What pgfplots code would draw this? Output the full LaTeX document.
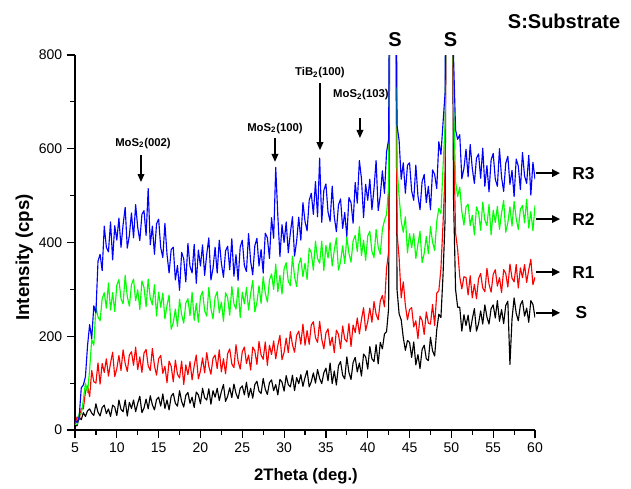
\documentclass[border=0pt]{standalone}
\usepackage{fontspec}
\setmainfont{Liberation Sans}
\usepackage{pgfplots}
\pgfplotsset{compat=1.18}
\usepackage{pgfplotstable}
\usetikzlibrary{arrows.meta}

% XRD patterns: substrate (s) and coatings R1, R2, R3
\pgfplotstableread{
x s r1 r2 r3
5.00 10 11 12 21
5.25 9 28 12 16
5.50 27 22 35 28
5.75 22 46 34 90
6.00 37 45 65 96
6.25 29 82 100 114
6.50 41 94 80 180
6.75 45 71 129 225
7.00 36 127 193 195
7.25 31 103 181 265
7.50 56 100 264 250
7.75 38 143 241 360
8.00 30 98 233 375
8.25 48 142 280 340
8.50 53 123 293 435
8.75 35 152 260 390
9.00 45 115 314 380
9.25 29 143 256 444
9.50 53 166 293 363
9.75 49 114 253 436
10.00 31 131 309 405
10.25 64 159 321 452
10.50 44 127 280 390
10.75 39 171 269 438
11.00 64 142 330 475
11.25 30 125 285 388
11.50 59 160 264 415
11.75 46 167 310 463
12.00 64 138 322 410
12.25 39 177 276 481
12.50 57 129 299 432
12.75 72 156 257 404
13.00 37 123 318 460
13.25 47 164 304 468
13.50 66 172 263 415
13.75 45 137 322 515
14.00 73 127 281 395
14.25 54 174 267 435
14.50 43 137 310 375
14.75 65 117 243 440
15.00 70 152 294 450
15.25 51 159 262 389
15.50 77 121 292 368
15.75 46 136 237 441
16.00 64 101 266 375
16.25 43 147 288 335
16.50 72 136 215 385
16.75 78 103 229 390
17.00 57 149 258 320
17.25 51 119 221 351
17.50 84 111 279 298
17.75 61 147 246 379
18.00 49 97 228 365
18.25 74 139 271 316
18.50 80 118 280 398
18.75 57 146 244 349
19.00 70 107 294 335
19.25 48 137 234 396
19.50 81 160 270 313
19.75 75 109 230 384
20.00 56 126 284 350
20.25 89 154 296 395
20.50 69 122 254 330
20.75 64 165 243 375
21.00 88 136 304 410
21.25 55 119 259 320
21.50 84 153 237 345
21.75 70 160 283 390
22.00 89 131 295 335
22.25 63 171 250 405
22.50 82 124 273 356
22.75 97 152 232 326
23.00 61 120 293 382
23.25 72 163 282 392
23.50 90 173 245 342
23.75 69 141 306 408
24.00 98 133 269 328
24.25 78 182 258 374
24.50 67 147 304 319
24.75 89 130 240 390
25.00 94 167 294 405
25.25 75 177 269 351
25.50 102 142 304 338
25.75 70 160 256 419
26.00 89 128 291 360
26.25 68 177 319 331
26.50 97 169 252 393
26.75 104 140 272 409
27.00 83 189 308 350
27.25 78 160 270 385
27.50 110 151 327 335
27.75 87 188 292 420
28.00 76 138 273 410
28.25 101 181 320 366
28.50 107 161 333 453
28.75 84 190 300 409
29.00 97 152 354 560
29.25 75 180 295 457
29.50 108 202 330 370
29.75 102 150 290 438
30.00 83 166 344 400
30.25 116 196 357 444
30.50 97 165 317 378
30.75 92 210 308 421
31.00 117 182 371 455
31.25 84 166 327 371
31.50 112 202 306 403
31.75 99 211 353 454
32.00 118 183 367 405
32.25 93 226 327 485
32.50 112 181 356 445
32.75 127 212 321 425
33.00 92 183 388 490
33.25 103 224 378 505
33.50 122 231 341 460
33.75 100 197 403 530
34.00 129 187 366 455
34.25 110 232 356 580
34.50 99 194 403 443
34.75 122 173 340 511
35.00 132 207 394 525
35.25 105 216 367 465
35.50 143 180 400 445
35.75 99 198 350 520
36.00 126 165 384 455
36.25 96 213 410 423
36.50 137 204 341 480
36.75 146 174 359 493
37.00 117 222 393 430
37.25 109 194 355 464
37.50 156 188 412 413
37.75 123 227 377 496
38.00 108 178 358 485
38.25 144 224 404 441
38.50 155 208 415 528
38.75 124 239 381 484
39.00 143 205 434 575
39.25 115 236 372 536
39.50 162 261 405 453
39.75 156 212 362 524
40.00 130 231 414 490
40.25 178 260 424 535
40.50 152 230 381 470
40.75 146 274 368 515
41.00 182 247 428 575
41.25 141 235 390 468
41.50 187 275 375 500
41.75 173 287 428 553
42.00 205 263 447 505
42.25 210 345 460 593
42.50 260 380 520 620
42.75 1500 1500 1500 1500
43.00 1500 1500 1500 1500
43.25 1500 1500 1500 1500
43.50 300 420 560 650
43.75 248 368 498 618
44.00 235 282 446 535
44.25 197 316 422 570
44.50 170 266 455 505
44.75 191 235 378 565
45.00 187 257 419 570
45.25 155 261 389 510
45.50 188 220 419 490
45.75 139 233 366 565
46.00 161 195 396 500
46.25 131 243 424 470
46.50 172 234 357 530
46.75 181 204 377 545
47.00 152 252 413 485
47.25 148 228 376 520
47.50 198 226 434 470
47.75 169 268 401 555
48.00 158 223 383 545
48.25 214 292 445 515
48.50 247 297 473 615
48.75 240 344 462 588
49.00 330 440 560 655
49.25 450 550 650 720
49.50 1500 1500 1500 1500
49.75 1500 1500 1500 1500
50.00 1500 1500 1500 1500
50.25 500 650 720 800
50.50 300 420 530 640
50.75 262 385 498 620
51.00 262 327 518 630
51.25 211 301 466 536
51.50 246 327 437 558
51.75 223 325 476 599
52.00 245 288 482 540
52.25 210 329 436 609
52.50 237 282 458 558
52.75 259 311 416 526
53.00 211 280 476 580
53.25 227 323 464 589
53.50 254 334 426 537
53.75 226 303 486 601
54.00 267 295 448 520
54.25 241 345 436 564
54.50 226 311 481 508
54.75 259 294 416 576
55.00 267 332 469 590
55.25 239 342 443 535
55.50 276 307 477 520
55.75 232 325 428 600
56.00 257 293 463 539
56.25 227 342 490 509
56.50 266 334 422 569
56.75 275 305 442 584
57.00 140 354 476 524
57.25 237 324 435 554
57.50 282 316 488 498
57.75 249 353 451 578
58.00 233 303 428 563
58.25 267 346 471 513
58.50 276 325 479 592
58.75 243 353 442 542
59.00 260 315 492 526
59.25 230 342 431 586
59.50 276 364 466 501
59.75 268 310 425 571
60.00 240 326 479 535
}\xrd

\begin{document}
\begin{tikzpicture}
\begin{axis}[
  scale only axis,
  width=345pt, height=281.25pt,
  xmin=5, xmax=60, ymin=0, ymax=800,
  axis lines=left,
  axis line style={-, line width=1pt},
  tick align=outside,
  xtick={5,10,...,60}, minor x tick num=1,
  ytick={0,200,...,800}, minor y tick num=1,
  major tick length=6pt, minor tick length=3.5pt,
  every tick/.style={black, line width=0.9pt},
  tick label style={font=\fontsize{10.5}{12}\selectfont},
  /pgf/number format/assume math mode=true,
  xlabel={2Theta (deg.)},
  ylabel={Intensity (cps)},
  xlabel style={font=\bfseries\fontsize{12.5}{14}\selectfont,
    at={(axis description cs:0.502,-0.123)}, anchor=center},
  ylabel style={font=\bfseries\fontsize{14}{16}\selectfont,
    at={(axis description cs:-0.11,0.46)}, anchor=center},
  clip mode=individual,
  every axis plot/.append style={line width=0.85pt, line join=round},
]
\path (axis cs:-3.967,917.33) rectangle (axis cs:71.476,-121.6);

\addplot[black, no marks] table[x=x, y=s] {\xrd};
\addplot[red, no marks] table[x=x, y=r1] {\xrd};
\addplot[green, no marks] table[x=x, y=r2] {\xrd};
\addplot[blue, no marks] table[x=x, y=r3] {\xrd};

% peak annotations
\begin{scope}[font=\bfseries\fontsize{8.5}{10}\selectfont]
  \node at (axis cs:13.13,612) {MoS\textsubscript{2}(002)};
  \node at (axis cs:28.91,644) {MoS\textsubscript{2}(100)};
  \node at (axis cs:34.29,762) {TiB\textsubscript{2}(100)};
  \node at (axis cs:39.19,715) {MoS\textsubscript{2}(103)};
\end{scope}
\begin{scope}[line width=1.1pt, -{Triangle[length=6pt,width=5pt]}]
  \draw (axis cs:12.89,587) -- (axis cs:12.89,529);
  \draw (axis cs:28.91,623) -- (axis cs:28.91,572);
  \draw (axis cs:34.29,740) -- (axis cs:34.29,597);
  \draw (axis cs:39.07,666) -- (axis cs:39.07,623);
\end{scope}

\node[font=\bfseries\fontsize{15}{17}\selectfont] at (axis cs:43.26,832) {S};
\node[font=\bfseries\fontsize{15}{17}\selectfont] at (axis cs:49.89,832) {S};
\node[font=\bfseries\fontsize{15}{17}\selectfont] at (axis cs:63.47,872) {S:Substrate};

% series labels on the right
\begin{scope}[line width=1.4pt, -{Triangle[length=6pt,width=5.5pt]}]
  \draw (axis cs:60.13,548) -- (axis cs:63.0,548);
  \draw (axis cs:60.13,450) -- (axis cs:63.0,450);
  \draw (axis cs:60.13,337) -- (axis cs:63.0,337);
  \draw (axis cs:60.13,250) -- (axis cs:63.0,250);
\end{scope}
\begin{scope}[font=\bfseries\fontsize{13}{15}\selectfont]
  \node[anchor=west] at (axis cs:63.9,548) {R3};
  \node[anchor=west] at (axis cs:63.9,450) {R2};
  \node[anchor=west] at (axis cs:63.9,337) {R1};
  \node[anchor=west] at (axis cs:64.3,250) {S};
\end{scope}
\end{axis}
\end{tikzpicture}
\end{document}
